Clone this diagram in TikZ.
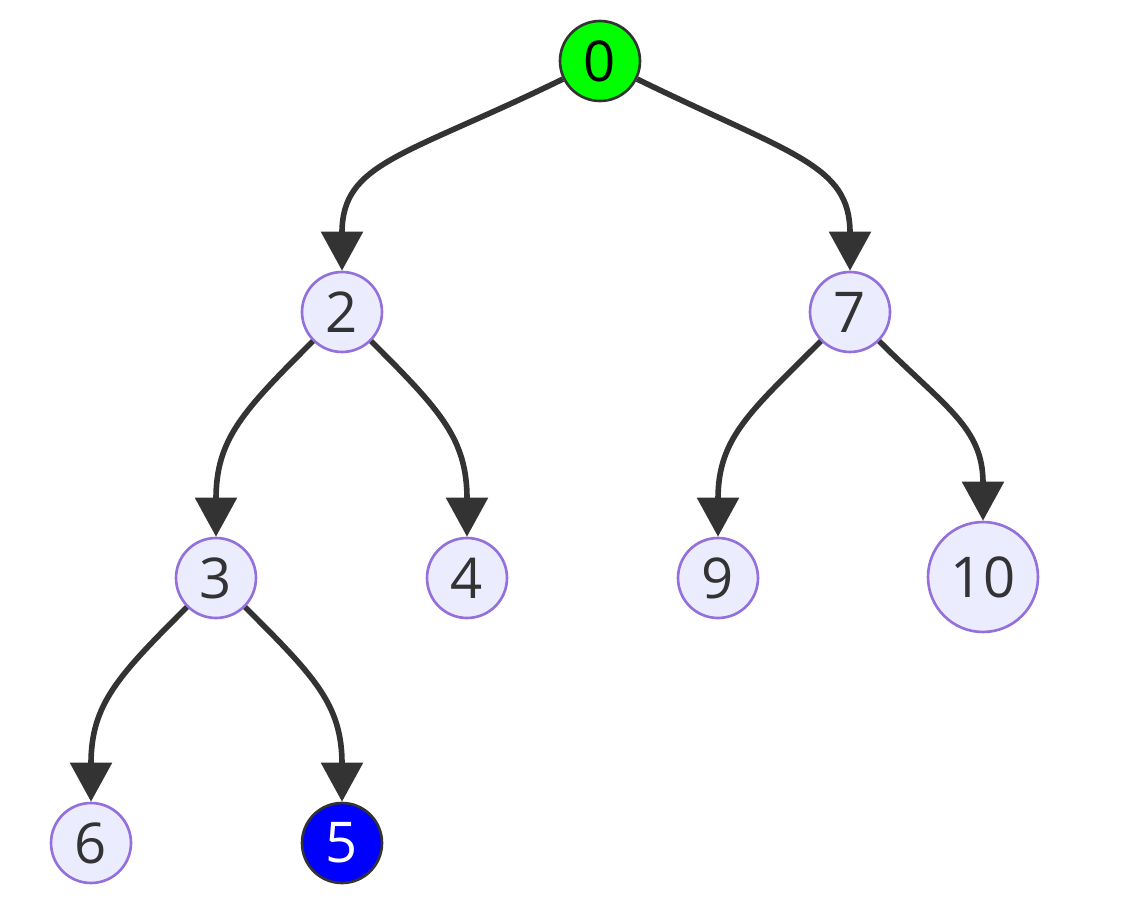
\documentclass[tikz,border=0pt]{standalone}
\usepackage{fontspec}
\setmainfont{Open Sans}
\usetikzlibrary{arrows.meta}
\definecolor{nodefill}{HTML}{ECECFF}
\definecolor{nodeline}{HTML}{9370DB}
\definecolor{darkline}{HTML}{333333}
\definecolor{rootgreen}{HTML}{00FF00}
\definecolor{hitblue}{HTML}{0000FF}
\begin{document}
\begin{tikzpicture}[
    x=0.02cm, y=-0.02cm,
    vertex/.style={circle, draw=nodeline, fill=nodefill, line width=1.5pt, minimum size=1.6cm, inner sep=0pt, text=darkline, font=\fontsize{32}{32}\selectfont},
    root/.style={vertex, draw=darkline, fill=rootgreen, text=black},
    found/.style={vertex, draw=darkline, fill=hitblue, text=white},
    edge/.style={-{Triangle[width=0.82cm, length=0.78cm]}, line width=3.2pt, draw=darkline, looseness=1.15},
    wide/.style={out looseness=1.55, in looseness=0.95}
]
    \useasboundingbox (0,0) rectangle (1139,905);

    % Level 0
    \node[root] (n0) at (600,61) {0};

    % Level 1
    \node[vertex] (n2) at (342,312) {2};
    \node[vertex] (n7) at (850,312) {7};

    % Level 2
    \node[vertex] (n3) at (216,578) {3};
    \node[vertex] (n4) at (467,578) {4};
    \node[vertex] (n9) at (718,578) {9};
    \node[vertex, minimum size=2.2cm] (n10) at (983,577) {10};

    % Level 3
    \node[vertex] (n6) at (91,843) {6};
    \node[found] (n5) at (342,843) {5};

    % Edges
    \draw[edge, wide] (n0) to[out=206, in=90] (n2);
    \draw[edge, wide] (n0) to[out=-26, in=90] (n7);
    \draw[edge] (n2) to[out=225, in=90] (n3);
    \draw[edge] (n2) to[out=-45, in=90] (n4);
    \draw[edge] (n7) to[out=225, in=90] (n9);
    \draw[edge] (n7) to[out=-45, in=90] (n10);
    \draw[edge] (n3) to[out=225, in=90] (n6);
    \draw[edge] (n3) to[out=-45, in=90] (n5);
\end{tikzpicture}
\end{document}
